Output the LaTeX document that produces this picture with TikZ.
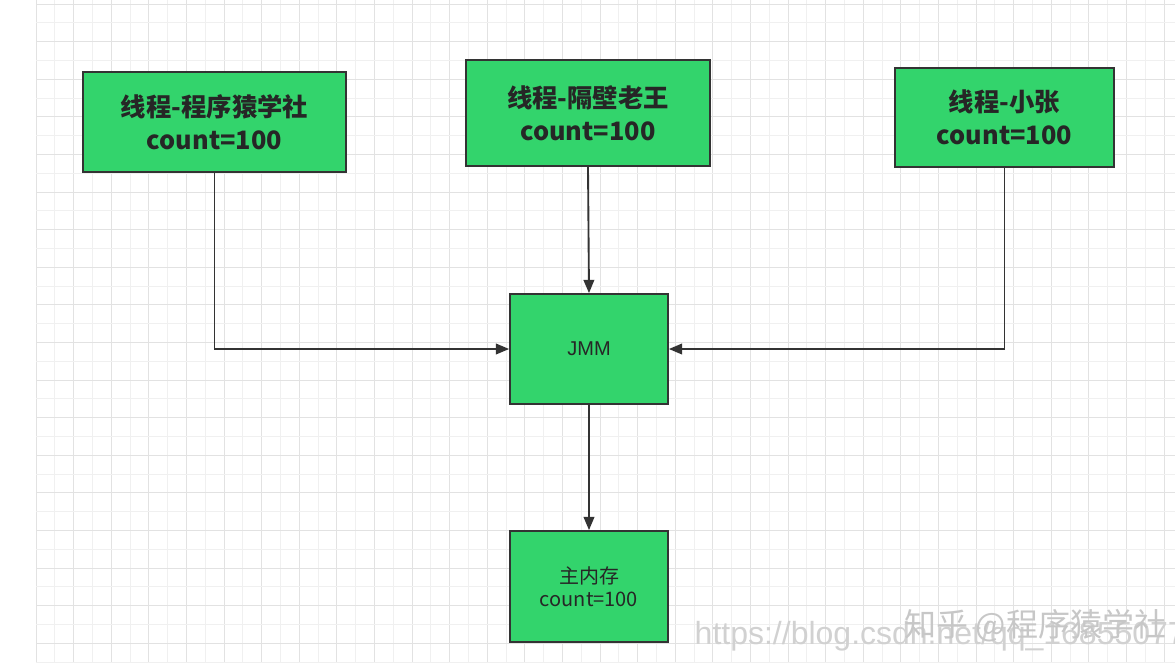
\documentclass[tikz,border=0pt]{standalone}
\usepackage{fontspec}
\setmainfont{Liberation Sans}
\newfontfamily\cjk{Noto Sans CJK SC}
\usetikzlibrary{arrows.meta}
\definecolor{boxgreen}{HTML}{33D46C}
\definecolor{gridc}{HTML}{E2E2E2}
\definecolor{gridm}{HTML}{F0F0F0}
\tikzset{
 box/.style={draw=black!80,line width=1.3pt,fill=boxgreen,inner sep=0pt,align=center,text=black!85},
 big/.style={font=\cjk\fontsize{19}{25}\selectfont\bfseries},
 small/.style={font=\cjk\fontsize{15}{17}\selectfont},
 conn/.style={draw=black!80,line width=1.4pt,-{Triangle[length=10pt,width=8pt]}}
}
\begin{document}
\begin{tikzpicture}[x=0.75pt,y=-0.75pt]
\useasboundingbox (0,0) rectangle (1175,662);
\fill[white] (0,0) rectangle (1175,662);
\foreach \i in {0,...,60} {\pgfmathsetmacro\c{mod(\i,2)==0?"gridc":"gridm"}\draw[\c,line width=0.7pt] ({36+18.8*\i},0) -- ({36+18.8*\i},662);}
\foreach \j in {0,...,35} {\pgfmathsetmacro\c{mod(\j,2)==0?"gridc":"gridm"}\draw[\c,line width=0.7pt] (36,{4+18.8*\j}) -- (1175,{4+18.8*\j});}
\node[box,big,minimum width=263*0.75pt,minimum height=100*0.75pt] (a) at (214.5,122) {线程-程序猿学社\\count=100};
\node[box,big,minimum width=244*0.75pt,minimum height=106*0.75pt] (b) at (588,113) {线程-隔壁老王\\count=100};
\node[box,big,minimum width=219*0.75pt,minimum height=99*0.75pt] (c) at (1004.5,117.5) {线程-小张\\count=100};
\node[box,font=\fontsize{15}{18}\selectfont,minimum width=158*0.75pt,minimum height=110*0.75pt] (j) at (589,349) {JMM};
\node[box,small,minimum width=158*0.75pt,minimum height=111*0.75pt] (m) at (589,586.5) {主内存\\count=100};
\draw[conn] (a.south) |- (j.west);
\draw[conn] (b.south) -- (j.north);
\draw[conn] (c.south) |- (j.east);
\draw[conn] (j.south) -- (m.north);
\node[text=black!18,font=\fontsize{24}{24}\selectfont,anchor=west] (w1) at (690,636) {https://blog.csdn.net/qq\_16855077};
\node[text=black!22,font=\cjk\fontsize{24}{24}\selectfont,anchor=west] (w2) at (900,626) {知乎 @程序猿学社};
\end{tikzpicture}
\end{document}
